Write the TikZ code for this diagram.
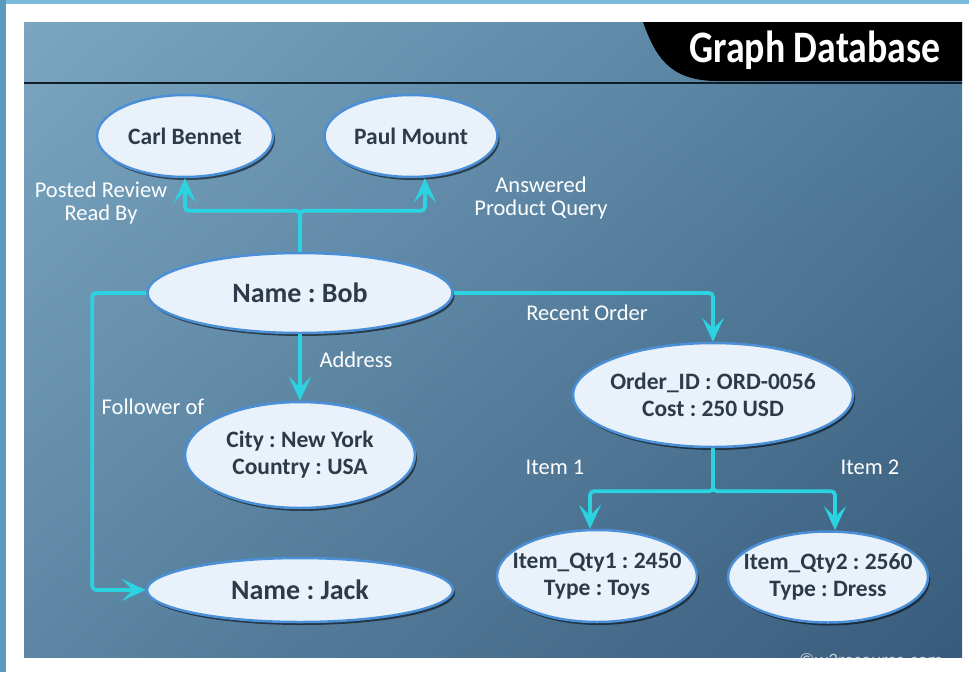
\documentclass[tikz,border=0pt]{standalone}
\usepackage{fontspec}
\usepackage{graphicx}
\setmainfont{Carlito}
\frenchspacing
\usetikzlibrary{shapes.geometric,arrows.meta,shadows,shadings}
\definecolor{entfill}{HTML}{E9F2FB}
\definecolor{entline}{HTML}{4B8FD6}
\definecolor{enttext}{HTML}{2D3B48}
\definecolor{relcol}{HTML}{2BD3E0}
\definecolor{stripa}{HTML}{7BBADD}
\definecolor{stripb}{HTML}{5A9ABD}
\definecolor{headline}{HTML}{101B28}
\definecolor{wmcol}{HTML}{C4D0DA}
\definecolor{bgul}{HTML}{7BA6C0}
\definecolor{bgur}{HTML}{507C9C}
\definecolor{bgll}{HTML}{5C86A3}
\definecolor{bglr}{HTML}{395B7B}
\begin{document}
\begin{tikzpicture}[x=1pt,y=-1pt,
ent/.style={ellipse,draw=entline,line width=2.5pt,fill=entfill,inner sep=0pt,text=enttext,align=center,
  font=\bfseries\fontsize{23.5}{27}\selectfont,
  drop shadow={shadow xshift=2pt,shadow yshift=-3pt,opacity=.55,fill=black}},
big/.style={font=\bfseries\fontsize{28}{30}\selectfont},
lbl/.style={text=white,align=center,font=\fontsize{22.5}{23}\selectfont},
rel/.style={draw=relcol,line width=3.8pt,rounded corners=4pt,-{Stealth[length=24pt,width=22pt,inset=11pt]}}]
\useasboundingbox (0,0) rectangle (969,672);
% frame and panel
\fill[white] (0,0) rectangle (969,672);
\fill[stripa] (0,0) rectangle (969,4);
\fill[stripb] (0,0) rectangle (6,672);
\shade[upper left=bgul,upper right=bgur,lower left=bgll,lower right=bglr] (24,22) rectangle (962,657);
\fill[black] (643,22) .. controls (655,55) and (668,80) .. (715,81) -- (962,81) -- (962,22) -- cycle;
\draw[headline,line width=2pt] (24,83) -- (962,83);
\node[text=white,font=\bfseries\fontsize{45}{48}\selectfont] (ttl) at (815,50) {\scalebox{0.84}[1]{Graph Database}};
% entities
\node[ent,minimum width=176pt,minimum height=82pt] (carl) at (185,136) {Carl Bennet};
\node[ent,minimum width=173pt,minimum height=82pt] (paul) at (411,136) {Paul Mount};
\node[ent,big,minimum width=305pt,minimum height=80pt] (bob) at (300,293) {Name : Bob};
\node[ent,minimum width=230pt,minimum height=106pt] (city) at (300,455) {City : New York\\Country : USA};
\node[ent,big,minimum width=306pt,minimum height=64pt] (jack) at (300,590) {Name : Jack};
\node[ent,inner xsep=-8pt,minimum width=280pt,minimum height=104pt] (order) at (713,395) {Order\_ID : ORD-0056\\Cost : 250 USD};
\node[ent,inner xsep=-17pt,minimum width=200pt,minimum height=92pt] (it1) at (597,576) {Item\_Qty1 : 2450\\Type : Toys};
\node[ent,inner xsep=-17pt,minimum width=200pt,minimum height=91pt] (it2) at (828,577) {Item\_Qty2 : 2560\\Type : Dress};
% relations
\draw[rel] (bob.north) -- ++(0,-41) -| (carl.south);
\draw[rel] (bob.north) -- ++(0,-41) -| ([xshift=14pt]paul.south);
\draw[rel] (bob.east) -| (order.north);
\draw[rel] (bob.south) -- (city.north);
\draw[rel] (bob.west) -- ++(-54,0) |- (jack.west);
\draw[rel] (order.south) -- ++(0,43) -| ([xshift=-7pt]it1.north);
\draw[rel] (order.south) -- ++(0,43) -| ([xshift=7pt]it2.north);
% labels
\node[lbl] (lpost) at (101,203) {Posted Review\\Read By};
\node[lbl] (lans) at (541,198) {Answered\\Product Query};
\node[lbl] (lrec) at (587,313) {Recent Order};
\node[lbl] (ladr) at (356,360) {Address};
\node[lbl] (lfol) at (153,407) {Follower of};
\node[lbl] (li1) at (555,467) {Item 1};
\node[lbl] (li2) at (870,467) {Item 2};
\begin{scope}
\clip (24,22) rectangle (962,657);
\node[text=wmcol,anchor=base,font=\fontsize{19}{20}\selectfont] (wm) at (871,666) {©w3resource.com};
\end{scope}
\end{tikzpicture}
\end{document}
